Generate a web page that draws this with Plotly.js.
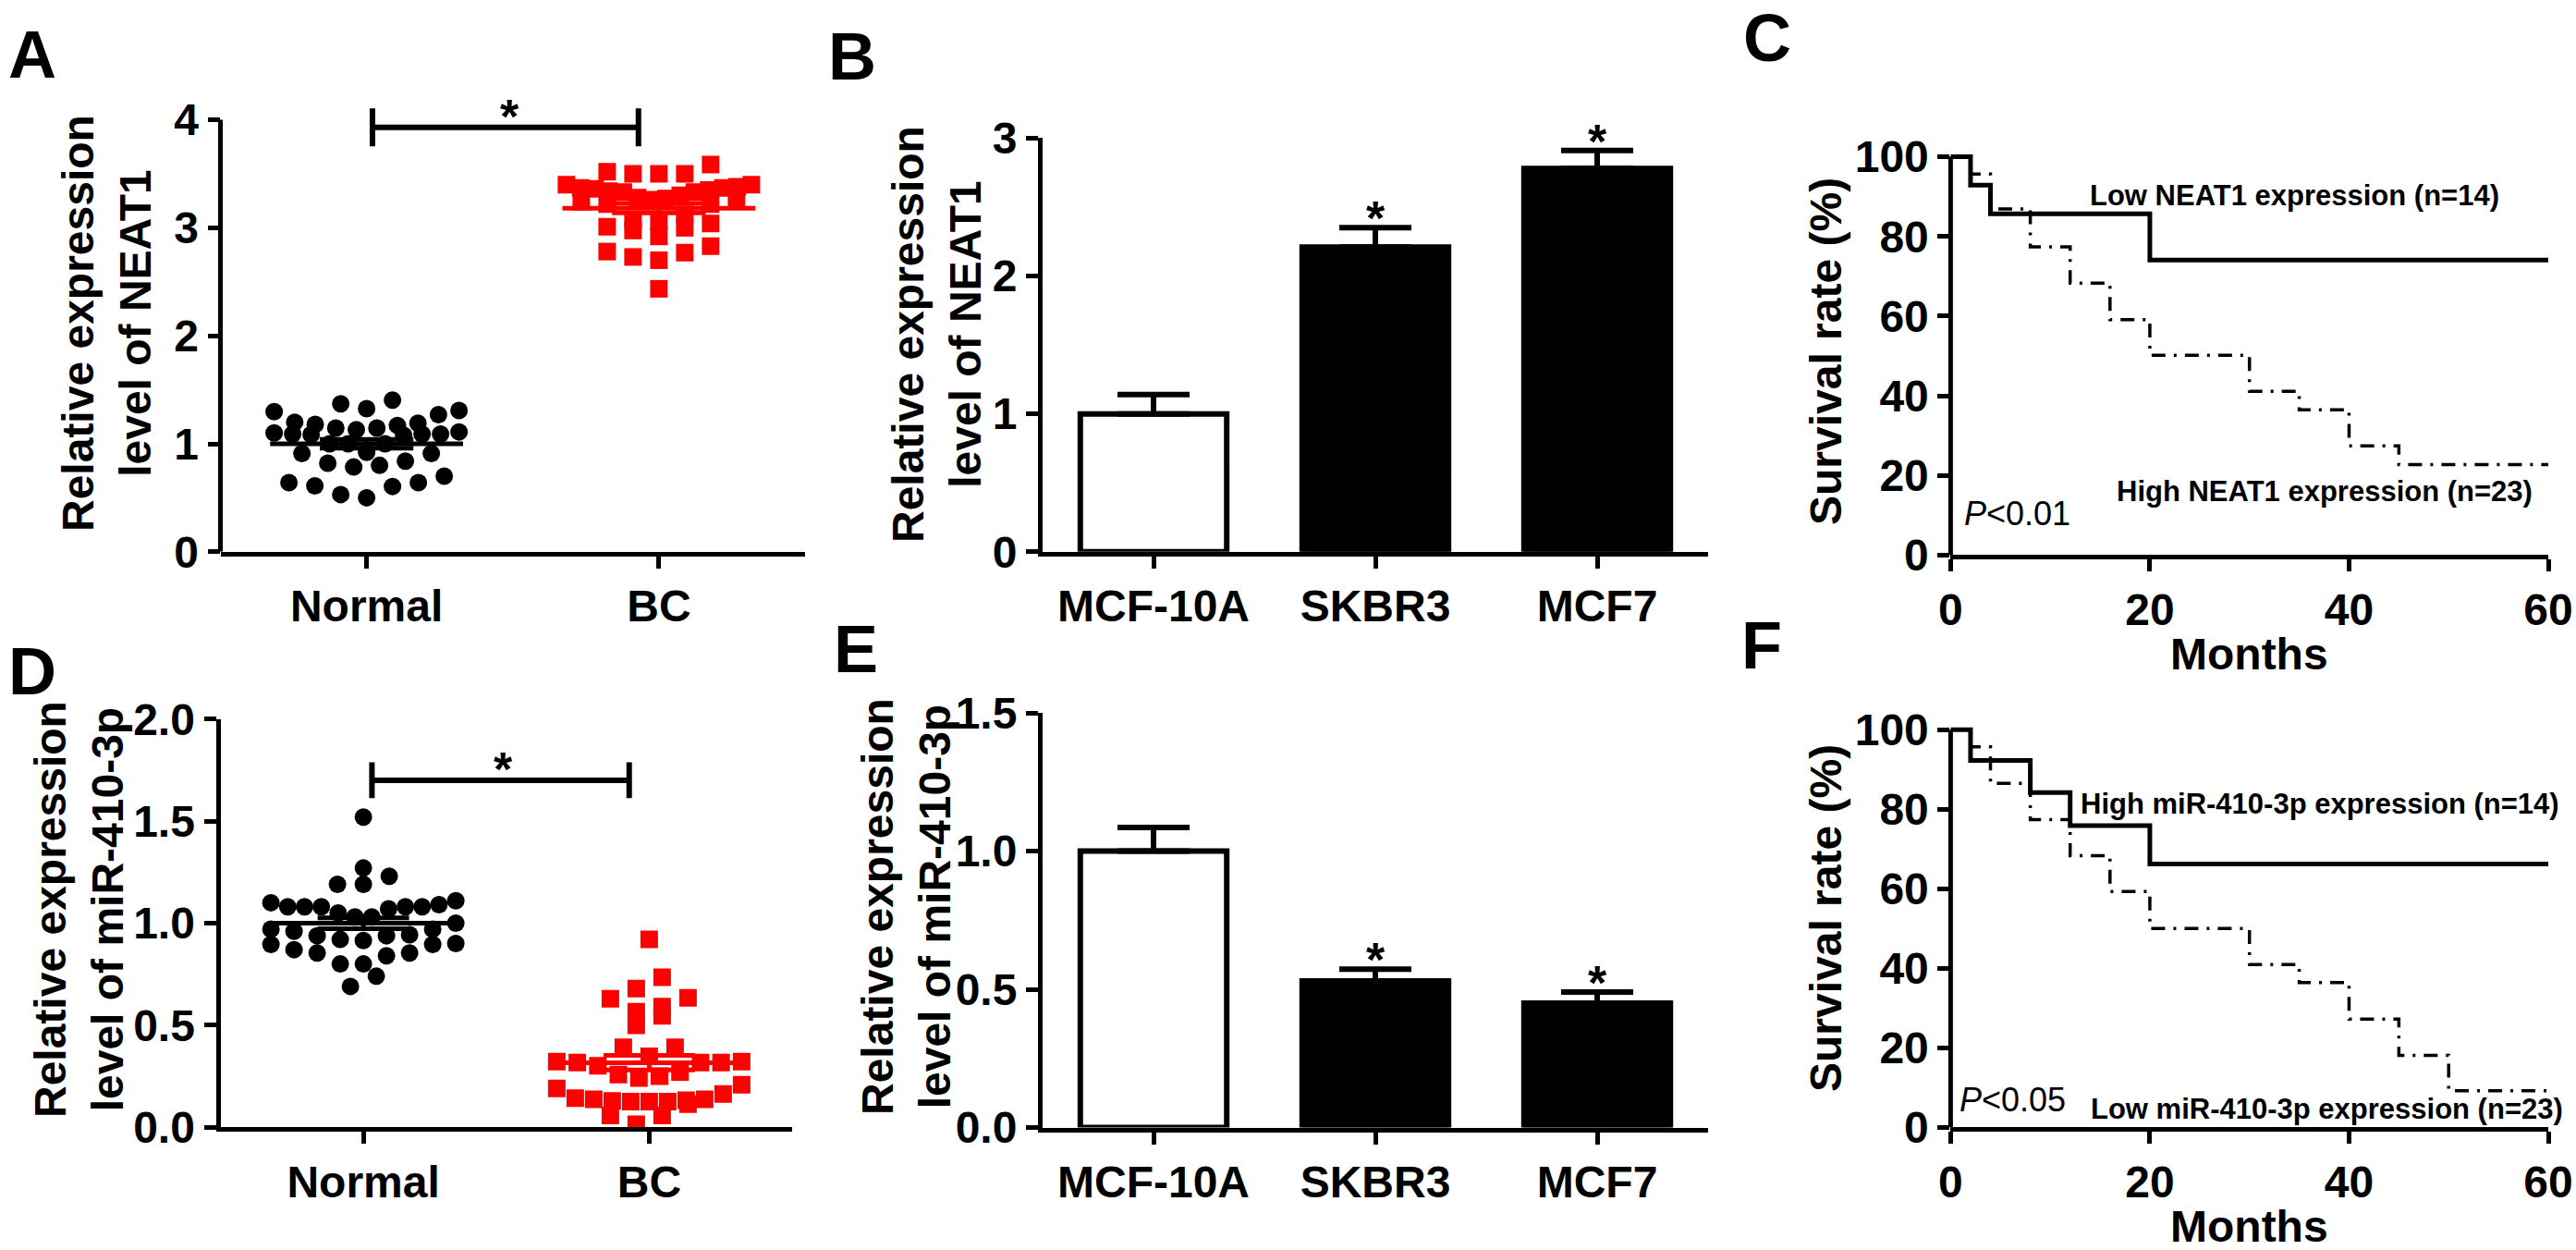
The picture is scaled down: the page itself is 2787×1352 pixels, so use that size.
<!DOCTYPE html>
<html>
<head>
<meta charset="utf-8">
<script src="https://cdn.plot.ly/plotly-3.0.1.min.js"></script>
<style>
html,body{margin:0;padding:0;background:#fff;}
#chart{width:2787px;height:1352px;}
</style>
</head>
<body>
<div id="chart"></div>
<script>
// ================= DATA =================
const groups = ['Normal', 'BC'];

// Panel A: relative NEAT1 expression in tissues
const neat1Normal = [1.405,1.37,1.326,1.308,1.297,1.27,1.20,1.19,1.18,1.17,1.146,1.146,1.13,1.11,
  1.09,1.08,1.09,1.085,1.09,1.10,1.00,1.00,1.00,0.91,0.91,0.92,0.84,0.80,0.785,0.82,
  0.70,0.64,0.64,0.605,0.61,0.53,0.50];
const neat1BC = [3.585,3.50,3.50,3.50,3.52,3.38,3.37,3.35,3.33,3.40,3.40,3.33,3.34,3.36,3.37,
  3.22,3.22,3.28,3.25,3.27,3.30,3.24,3.26,3.126,3.06,3.01,2.975,3.00,3.04,3.075,
  2.92,2.78,2.73,2.70,2.77,2.83,2.435];

// Panel D: relative miR-410-3p expression in tissues
const mirNormal = [1.52,1.27,1.23,1.19,1.19,1.11,1.10,1.09,1.08,1.08,1.07,1.05,1.08,1.08,1.08,
  1.03,1.03,0.96,0.97,0.97,0.943,0.938,0.915,0.896,0.87,0.854,0.84,0.854,0.896,0.90,
  0.92,0.938,0.80,0.80,0.74,0.69,1.00];
const mirBC = [0.921,0.735,0.679,0.634,0.591,0.629,0.546,0.566,0.499,0.392,0.392,0.347,
  0.317,0.317,0.301,0.321,0.317,0.321,0.250,0.208,0.258,0.271,0.241,0.190,
  0.132,0.125,0.125,0.163,0.137,0.137,0.143,0.113,0.125,0.129,0.057,0.057,0.015];

// Panels B and E: cell lines
const cellLines = ['MCF-10A', 'SKBR3', 'MCF7'];
const neat1CellMean = [1.00, 2.21, 2.78];
const neat1CellErr  = [0.14, 0.14, 0.13];
const neat1CellSig  = ['', '*', '*'];
const mirCellMean = [1.00, 0.53, 0.45];
const mirCellErr  = [0.085, 0.043, 0.04];
const mirCellSig  = ['', '*', '*'];

// Panels C and F: Kaplan-Meier survival (months, %)
const neat1LowMonths  = [0, 2, 4, 20, 60];
const neat1LowSurv    = [100, 92.9, 85.7, 74.1, 74.1];
const neat1HighMonths = [0, 2, 4, 8, 12, 16, 20, 30, 35, 40, 45, 60];
const neat1HighSurv   = [100, 95.7, 86.9, 77.4, 68.3, 59.1, 50.2, 41.1, 36.5, 27.4, 22.7, 22.7];
const mirHighMonths = [0, 2, 8, 12, 20, 60];
const mirHighSurv   = [100, 92.3, 84.2, 75.9, 66.2, 66.2];
const mirLowMonths  = [0, 2, 4, 8, 12, 16, 20, 30, 35, 40, 45, 50, 60];
const mirLowSurv    = [100, 95.7, 86.5, 77.4, 68.3, 59.3, 50.0, 40.9, 36.4, 27.2, 18.1, 9.2, 9.2];

// Tick values
const neat1Ticks = [0, 1, 2, 3, 4];
const neat1CellTicks = [0, 1, 2, 3];
const mirTicks = [0, 0.5, 1.0, 1.5, 2.0];
const mirCellTicks = [0, 0.5, 1.0, 1.5];
const survTicks = [0, 20, 40, 60, 80, 100];
const monthTicks = [0, 20, 40, 60];

// Text
const titleNEAT1 = 'Relative expression<br>level of NEAT1';
const titleMIR = 'Relative expression<br>level of miR-410-3p';
const titleSurv = 'Survival rate (%)';
const titleMonths = 'Months';
const labC1 = 'Low NEAT1 expression (n=14)';
const labC2 = 'High NEAT1 expression (n=23)';
const labF1 = 'High miR-410-3p expression (n=14)';
const labF2 = 'Low miR-410-3p expression (n=23)';
const pC = '<i>P</i>&lt;0.01';
const pF = '<i>P</i>&lt;0.05';

// ================= LAYOUT HELPERS =================
const W = 2787, H = 1352;
const FONT = 'Liberation Sans, Arial, Helvetica, sans-serif';
const px = p => p / W;
const py = p => 1 - p / H;
const BLACK = '#000000', RED = '#ff0000';

// panel geometry (pixels)
const G = {
  A: {x: [238.5, 871], y: [596.8, 59.5], xr: [-0.5, 1.5], yr: [0, 4.6]},
  B: {x: [1128, 1848], y: [596.8, 149.4], xr: [-0.5, 2.5], yr: [0, 3]},
  C: {x: [2110.4, 2757], y: [600.4, 161], xr: [0, 60], yr: [0, 102]},
  D: {x: [238.5, 857], y: [1219.2, 777.7], xr: [-0.5, 1.5], yr: [0, 2]},
  E: {x: [1128, 1848], y: [1219.5, 771], xr: [-0.5, 2.5], yr: [0, 1.5]},
  F: {x: [2110.4, 2757], y: [1219.2, 780.7], xr: [0, 60], yr: [0, 102]}
};
const unitX = g => (g.x[1] - g.x[0]) / (g.xr[1] - g.xr[0]);
const unitY = g => (g.y[0] - g.y[1]) / (g.yr[1] - g.yr[0]);

const TICKFONT = {family: FONT, size: 48, color: BLACK, weight: 700};

function xAxis(g, anchor, extra) {
  return Object.assign({
    domain: [px(g.x[0]), px(g.x[1])], range: g.xr, anchor: anchor,
    showgrid: false, zeroline: false, showline: true, linecolor: BLACK, linewidth: 5,
    ticks: 'outside', ticklen: 13, tickwidth: 5, tickcolor: BLACK,
    tickfont: TICKFONT, fixedrange: true, tickmode: 'array'
  }, extra);
}
function yAxis(g, anchor, extra) {
  return Object.assign({
    domain: [py(g.y[0]), py(g.y[1])], range: g.yr, anchor: anchor,
    showgrid: false, zeroline: false, showline: true, linecolor: BLACK, linewidth: 5,
    ticks: 'outside', ticklen: 13, tickwidth: 5, tickcolor: BLACK,
    tickfont: TICKFONT, fixedrange: true, tickmode: 'array'
  }, extra);
}

// GraphPad-like scatter arrangement: points are grouped in horizontal bands
// and spread evenly (lowest value in the centre) inside each band.
function bandSwarm(vals, g, bandPx, spacingPx, maxPx) {
  const ux = unitX(g), uy = unitY(g);
  const hb = bandPx / uy;
  const vmin = Math.min.apply(null, vals);
  const bands = {};
  vals.forEach((v, i) => {
    const b = Math.floor((v - vmin) / hb + 1e-9);
    (bands[b] = bands[b] || []).push(i);
  });
  const off = new Array(vals.length).fill(0);
  Object.keys(bands).forEach(k => {
    const list = bands[k].slice().sort((a, b) => vals[a] - vals[b]);
    const n = list.length;
    const s = n > 1 ? Math.min(spacingPx, maxPx / (n - 1)) : 0;
    const slots = [];
    for (let j = 0; j < n; j++) slots.push((j - (n - 1) / 2) * s);
    slots.sort((a, b) => (Math.abs(a) - Math.abs(b)) || (a - b));
    list.forEach((idx, j) => { off[idx] = slots[j] / ux; });
  });
  return off;
}
const mean = a => a.reduce((s, v) => s + v, 0) / a.length;
const sem = a => { const m = mean(a); return Math.sqrt(a.reduce((s, v) => s + (v - m) * (v - m), 0) / (a.length - 1)) / Math.sqrt(a.length); };

const traces = [];
const annotations = [];
const shapes = [];

// ---------- dot plots (A, D) ----------
function dotPanel(g, xa, ya, normal, bc) {
  const sets = [{vals: normal, color: BLACK, symbol: 'circle'}, {vals: bc, color: RED, symbol: 'square'}];
  sets.forEach((s, gi) => {
    const off = bandSwarm(s.vals, g, 24, 28, 200);
    traces.push({
      type: 'scatter', mode: 'markers', xaxis: xa, yaxis: ya,
      x: s.vals.map((v, i) => gi + off[i]), y: s.vals,
      marker: {symbol: s.symbol, size: 19, color: s.color, line: {width: 0}},
      hoverinfo: 'skip'
    });
  });
  sets.forEach((s, gi) => {
    const m = mean(s.vals), e = sem(s.vals);
    traces.push({
      type: 'scatter', mode: 'lines', xaxis: xa, yaxis: ya,
      x: [gi - 0.33, gi + 0.33, null, gi - 0.16, gi + 0.16, null, gi - 0.16, gi + 0.16, null, gi, gi],
      y: [m, m, null, m + e, m + e, null, m - e, m - e, null, m - e, m + e],
      line: {color: s.color, width: 5}, hoverinfo: 'skip'
    });
  });
}
dotPanel(G.A, 'x', 'y', neat1Normal, neat1BC);
dotPanel(G.D, 'x4', 'y4', mirNormal, mirBC);

// significance brackets
function sigBracket(xa, ya, x0, x1, yv, half) {
  traces.push({
    type: 'scatter', mode: 'lines', xaxis: xa, yaxis: ya,
    x: [x0, x0, x0, x1, x1, x1], y: [yv + half, yv - half, yv, yv, yv + half, yv - half],
    line: {color: BLACK, width: 6}, hoverinfo: 'skip'
  });
  annotations.push({xref: xa, yref: ya, x: 0.49, y: yv, text: '*', showarrow: false,
    yanchor: 'middle', yshift: 12, font: {family: FONT, size: 52, color: BLACK, weight: 700}});
}
sigBracket('x', 'y', 0.02, 0.93, 3.93, 0.175);
sigBracket('x4', 'y4', 0.03, 0.93, 1.70, 0.088);

// ---------- bar charts (B, E) ----------
function barPanel(xa, ya, means, errs, sigs) {
  traces.push({
    type: 'bar', xaxis: xa, yaxis: ya,
    x: cellLines.map((c, i) => i), y: means, width: 0.66,
    marker: {color: means.map((v, i) => i === 0 ? '#ffffff' : BLACK), line: {color: BLACK, width: 6}},
    error_y: {type: 'data', symmetric: false, array: errs, arrayminus: errs.map(() => 0),
      color: BLACK, thickness: 6, width: 39},
    hoverinfo: 'skip'
  });
  sigs.forEach((s, i) => {
    if (!s) return;
    annotations.push({xref: xa, yref: ya, x: i, y: means[i] + errs[i], text: s, showarrow: false,
      yanchor: 'middle', yshift: 10, font: {family: FONT, size: 52, color: BLACK, weight: 700}});
  });
}
barPanel('x2', 'y2', neat1CellMean, neat1CellErr, neat1CellSig);
barPanel('x5', 'y5', mirCellMean, mirCellErr, mirCellSig);

// ---------- survival curves (C, F) ----------
function survPanel(xa, ya, solidX, solidY, dashX, dashY) {
  traces.push({type: 'scatter', mode: 'lines', xaxis: xa, yaxis: ya, x: dashX, y: dashY,
    line: {shape: 'hv', color: BLACK, width: 3.5, dash: '15px,9px,3px,9px'}, hoverinfo: 'skip'});
  traces.push({type: 'scatter', mode: 'lines', xaxis: xa, yaxis: ya, x: solidX, y: solidY,
    line: {shape: 'hv', color: BLACK, width: 5}, hoverinfo: 'skip'});
}
survPanel('x3', 'y3', neat1LowMonths, neat1LowSurv, neat1HighMonths, neat1HighSurv);
survPanel('x6', 'y6', mirHighMonths, mirHighSurv, mirLowMonths, mirLowSurv);

// y-axis lines that stop at the top tick (A, C, F)
[['x', 'y', 4], ['x3', 'y3', 100], ['x6', 'y6', 100]].forEach(([xa, ya, top]) => {
  shapes.push({type: 'line', xref: xa + ' domain', yref: ya, x0: 0, x1: 0, y0: 0, y1: top,
    line: {color: BLACK, width: 5}});
});

// ---------- text ----------
const LAB = {family: FONT, size: 31, color: BLACK, weight: 700};
const PF = {family: FONT, size: 36, color: BLACK};
annotations.push(
  {xref: 'x3', yref: 'y3', x: 34.5, y: 90.2, text: labC1, showarrow: false, font: LAB},
  {xref: 'x3', yref: 'y3', x: 37.5, y: 16, text: labC2, showarrow: false, font: LAB},
  {xref: 'x3', yref: 'y3', x: 1.2, y: 10.4, text: pC, showarrow: false, xanchor: 'left', font: PF},
  {xref: 'x6', yref: 'y6', x: 37.1, y: 81.3, text: labF1, showarrow: false, font: LAB},
  {xref: 'x6', yref: 'y6', x: 37.8, y: 4.5, text: labF2, showarrow: false, font: LAB},
  {xref: 'x6', yref: 'y6', x: 0.7, y: 6.8, text: pF, showarrow: false, xanchor: 'left', font: PF}
);

const TITLE = {family: FONT, size: 48, color: BLACK, weight: 700};
function paperText(text, xp, yp, font, angle) {
  annotations.push({xref: 'paper', yref: 'paper', x: px(xp), y: py(yp), text: text,
    showarrow: false, xanchor: 'center', yanchor: 'middle', textangle: angle || 0, font: font});
}
paperText(titleNEAT1, 116, 350, TITLE, -90);
paperText(titleNEAT1, 1013, 362, TITLE, -90);
paperText(titleSurv, 1975, 380, TITLE, -90);
paperText(titleMIR, 85, 984, TITLE, -90);
paperText(titleMIR, 980, 981, TITLE, -90);
paperText(titleSurv, 1975, 993, TITLE, -90);
paperText(titleMonths, 2433, 707, TITLE);
paperText(titleMonths, 2433, 1326, TITLE);

const LETTER = {family: FONT, size: 72, color: BLACK, weight: 700};
[['A', 35, 59], ['B', 922, 61], ['C', 1912, 41], ['D', 35, 726], ['E', 926, 702], ['F', 1906, 698]]
  .forEach(([t, x, y]) => paperText(t, x, y, LETTER));

const layout = {
  width: W, height: H, margin: {l: 0, r: 0, t: 0, b: 0, pad: 0},
  paper_bgcolor: '#ffffff', plot_bgcolor: 'rgba(0,0,0,0)', showlegend: false,
  font: {family: FONT, color: BLACK},
  xaxis:  xAxis(G.A, 'y',  {tickvals: [0, 1], ticktext: groups}),
  yaxis:  yAxis(G.A, 'x',  {tickvals: neat1Ticks, showline: false}),
  xaxis2: xAxis(G.B, 'y2', {tickvals: [0, 1, 2], ticktext: cellLines}),
  yaxis2: yAxis(G.B, 'x2', {tickvals: neat1CellTicks}),
  xaxis3: xAxis(G.C, 'y3', {tickvals: monthTicks}),
  yaxis3: yAxis(G.C, 'x3', {tickvals: survTicks, showline: false}),
  xaxis4: xAxis(G.D, 'y4', {tickvals: [0, 1], ticktext: groups}),
  yaxis4: yAxis(G.D, 'x4', {tickvals: mirTicks, tickformat: '.1f'}),
  xaxis5: xAxis(G.E, 'y5', {tickvals: [0, 1, 2], ticktext: cellLines}),
  yaxis5: yAxis(G.E, 'x5', {tickvals: mirCellTicks, tickformat: '.1f'}),
  xaxis6: xAxis(G.F, 'y6', {tickvals: monthTicks}),
  yaxis6: yAxis(G.F, 'x6', {tickvals: survTicks, showline: false}),
  annotations: annotations,
  shapes: shapes
};

Plotly.newPlot('chart', traces, layout, {staticPlot: true, displayModeBar: false});
</script>
</body>
</html>
